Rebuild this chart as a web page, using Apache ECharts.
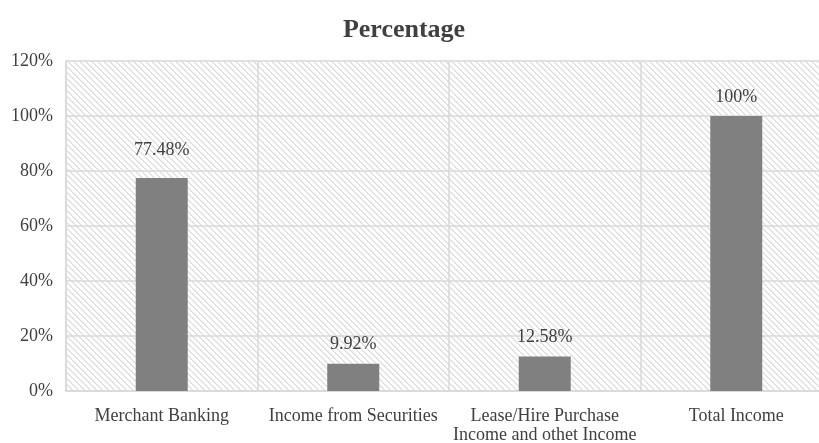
<!DOCTYPE html>
<html>
<head>
<meta charset="utf-8">
<style>
  html, body { margin: 0; padding: 0; background: #ffffff; }
  #chart { width: 819px; height: 443px; }
</style>
<script src="https://cdn.jsdelivr.net/npm/echarts@6/dist/echarts.min.js"></script>
</head>
<body>
<div id="chart"></div>
<script>
// Income sources and their share of total income
const categories = [
  'Merchant Banking',
  'Income from Securities',
  'Lease/Hire Purchase\nIncome and othet Income',
  'Total Income'
];
const percentages = [77.48, 9.92, 12.58, 100];
const yTicks = { min: 0, max: 120, step: 20 };

// Light downward-diagonal hatch used as the plot background
function makeHatch() {
  const size = 6;
  const c = document.createElement('canvas');
  c.width = size; c.height = size;
  const ctx = c.getContext('2d');
  ctx.fillStyle = '#ffffff';
  ctx.fillRect(0, 0, size, size);
  ctx.fillStyle = '#dcdcdc';
  for (let i = 0; i < size; i++) ctx.fillRect(i, i, 1, 1);
  ctx.fillStyle = '#e9e9e9';
  for (let i = 0; i < size; i++) ctx.fillRect((i + 1) % size, i, 1, 1);
  return c;
}

const font = '"Liberation Serif", "Times New Roman", serif';
const chart = echarts.init(document.getElementById('chart'), null, { renderer: 'canvas' });

chart.setOption({
  animation: false,
  backgroundColor: '#ffffff',
  title: {
    text: 'Percentage',
    left: 399,
    top: 12,
    textAlign: 'center',
    textStyle: { fontFamily: font, fontSize: 26, fontWeight: 'bold', color: '#404040' }
  },
  grid: {
    left: 66,
    top: 61,
    width: 766,
    height: 330,
    outerBoundsMode: 'none',
    containLabel: false,
    show: true,
    borderWidth: 0,
    backgroundColor: { image: makeHatch(), repeat: 'repeat' }
  },
  xAxis: {
    type: 'category',
    data: categories,
    axisLine: { show: true, lineStyle: { color: '#d9d9d9', width: 1.5 } },
    axisTick: { show: false },
    splitLine: { show: true, lineStyle: { color: '#d9d9d9', width: 1.5 } },
    axisLabel: {
      fontFamily: font, fontSize: 18, color: '#404040',
      margin: 16, lineHeight: 19, interval: 0
    }
  },
  yAxis: {
    type: 'value',
    min: yTicks.min,
    max: yTicks.max,
    interval: yTicks.step,
    axisLine: { show: true, lineStyle: { color: '#d9d9d9', width: 1.5 } },
    axisTick: { show: false },
    splitLine: { show: true, lineStyle: { color: '#d9d9d9', width: 1.5 } },
    axisLabel: {
      fontFamily: font, fontSize: 18, color: '#404040', margin: 13,
      formatter: '{value}%'
    }
  },
  series: [{
    type: 'bar',
    data: percentages.map((v, i) => i === 0
      ? { value: v, label: { distance: 19 } }
      : v),
    barWidth: 52,
    itemStyle: { color: '#808080' },
    label: {
      show: true,
      position: 'top',
      distance: 10,
      fontFamily: font,
      fontSize: 18,
      color: '#404040',
      formatter: p => p.value + '%'
    }
  }]
});
</script>
</body>
</html>
